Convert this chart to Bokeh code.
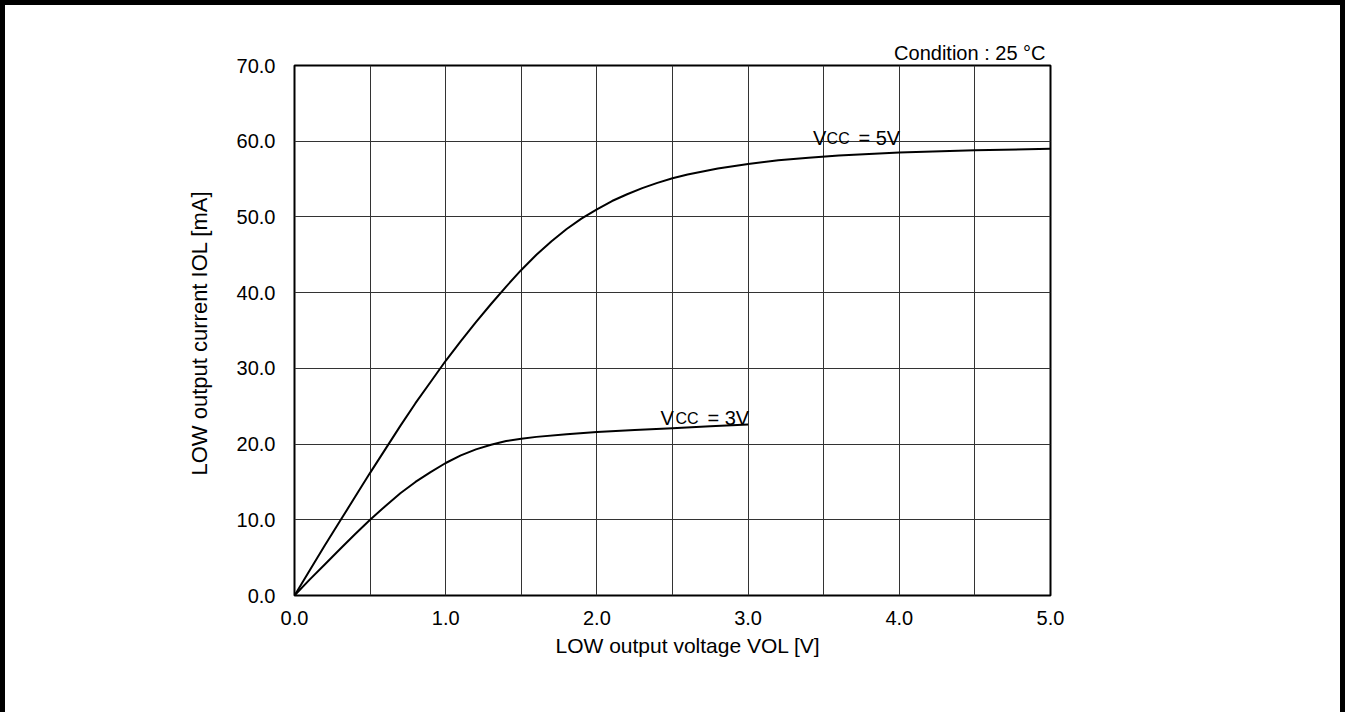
import math
from bokeh.plotting import figure
from bokeh.models import Range1d, FixedTicker, PrintfTickFormatter, Label, Title
from bokeh.embed import file_html
from bokeh.resources import INLINE

# ---- data ----
vol_5v = [0.0, 0.1, 0.2, 0.3, 0.4, 0.5, 0.6, 0.7, 0.8, 0.9, 1.0, 1.1, 1.2, 1.3, 1.4, 1.5,
          1.6, 1.7, 1.8, 1.9, 2.0, 2.1, 2.2, 2.3, 2.4, 2.5, 2.6, 2.8, 3.0, 3.2, 3.4, 3.6,
          3.8, 4.0, 4.5, 5.0]
iol_5v = [0.0, 3.3, 6.6, 9.8, 13.0, 16.2, 19.3, 22.4, 25.4, 28.2, 31.0, 33.6, 36.1, 38.5,
          40.8, 43.0, 45.0, 46.8, 48.4, 49.8, 51.0, 52.1, 53.0, 53.8, 54.5, 55.1, 55.6,
          56.4, 57.0, 57.5, 57.8, 58.1, 58.3, 58.5, 58.8, 59.0]
vol_3v = [0.0, 0.1, 0.2, 0.3, 0.4, 0.5, 0.6, 0.7, 0.8, 0.9, 1.0, 1.1, 1.2, 1.3, 1.4, 1.5,
          1.6, 1.8, 2.0, 2.25, 2.5, 2.75, 3.0]
iol_3v = [0.0, 2.1, 4.1, 6.1, 8.1, 10.0, 11.8, 13.5, 15.0, 16.3, 17.5, 18.5, 19.3, 19.9,
          20.4, 20.7, 20.95, 21.3, 21.6, 21.85, 22.1, 22.35, 22.6]
x_ticks = [0.0, 1.0, 2.0, 3.0, 4.0, 5.0]
x_minor_ticks = [0.5, 1.5, 2.5, 3.5, 4.5]
y_ticks = [0.0, 10.0, 20.0, 30.0, 40.0, 50.0, 60.0, 70.0]

x_label = "LOW output voltage  VOL [V]"
y_label = "LOW output current  IOL [mA]"
condition = "Condition : 25 °C"

FONT = "Liberation Sans"

p = figure(width=1345, height=712,
           x_range=Range1d(0, 5), y_range=Range1d(0, 70),
           output_backend="svg", toolbar_location=None,
           min_border_left=289, min_border_right=300,
           min_border_top=60, min_border_bottom=122,
           background_fill_color="white", border_fill_color="white",
           styles={"border-left": "5px solid black",
                   "border-top": "5px solid black",
                   "border-right": "5px solid black"})

xt = FixedTicker(ticks=x_ticks, minor_ticks=x_minor_ticks)
yt = FixedTicker(ticks=y_ticks)
p.xaxis.ticker = xt
p.xgrid.ticker = xt
p.yaxis.ticker = yt
p.ygrid.ticker = yt

for ax in (p.xaxis, p.yaxis):
    ax.formatter = PrintfTickFormatter(format="%.1f")
    ax.axis_line_color = None
    ax.major_tick_line_color = None
    ax.minor_tick_line_color = None
    ax.major_tick_out = 0
    ax.major_tick_in = 0
    ax.minor_tick_out = 0
    ax.minor_tick_in = 0
    ax.major_label_text_font = FONT
    ax.major_label_text_font_size = "20px"
    ax.major_label_text_color = "black"
p.xaxis.major_label_standoff = 15
p.yaxis.major_label_standoff = 19

for g in (p.xgrid, p.ygrid):
    g.grid_line_color = "#333333"
    g.grid_line_width = 1
p.xgrid.minor_grid_line_color = "#333333"
p.xgrid.minor_grid_line_width = 1

p.outline_line_color = "black"
p.outline_line_width = 2

p.line(vol_5v, iol_5v, line_color="black", line_width=2)
p.line(vol_3v, iol_3v, line_color="black", line_width=2)

# titles used as axis labels / condition note
p.add_layout(Title(text=condition, align="right", offset=5, standoff=4,
                   text_font=FONT, text_font_size="20px",
                   text_font_style="normal", text_color="black"), "above")
p.add_layout(Title(text=x_label, align="left", offset=261, standoff=8,
                   text_font=FONT, text_font_size="21px",
                   text_font_style="normal", text_color="black"), "below")
p.add_layout(Title(text=y_label, align="left", offset=120, standoff=44,
                   text_font=FONT, text_font_size="22px",
                   text_font_style="normal", text_color="black"), "left")


def lab(x, y, text, size):
    p.add_layout(Label(x=x, y=y, text=text, text_font=FONT,
                       text_font_size=size, text_color="black",
                       text_align="left", text_baseline="alphabetic"))


# curve labels (V with small-caps CC)
lab(3.43, 60.36, "V", "20px")
lab(3.519, 60.36, "CC", "16px")
lab(3.73, 60.36, "= 5V", "20px")

lab(2.421, 23.38, "V", "20px")
lab(2.520, 23.38, "CC", "16px")
lab(2.731, 23.38, "= 3V", "20px")

open("out.html", "w").write(file_html(p, INLINE))
